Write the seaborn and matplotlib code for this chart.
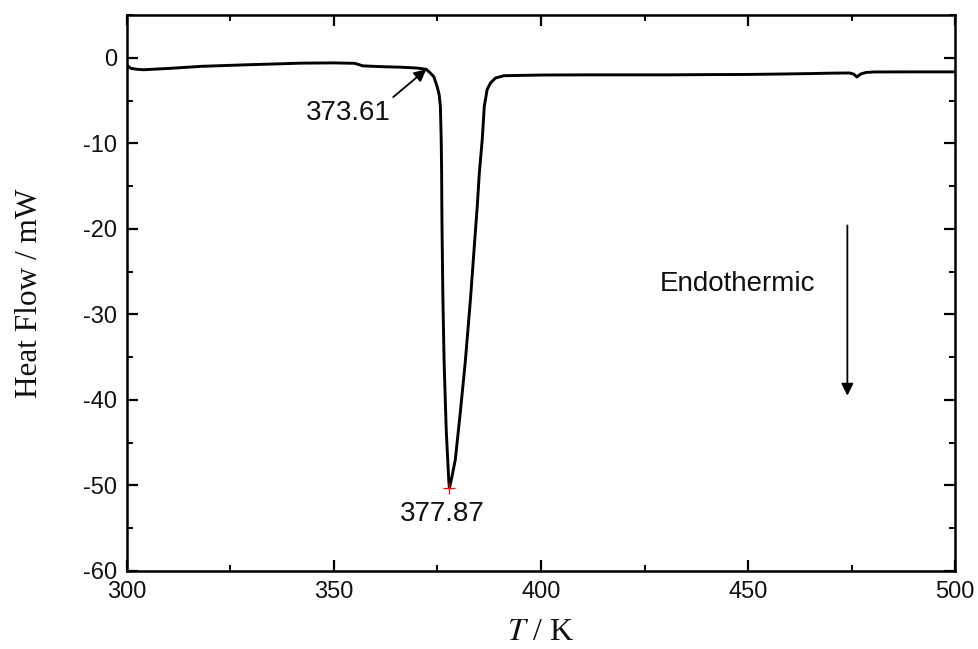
import matplotlib
matplotlib.use("Agg")
import matplotlib.pyplot as plt
from matplotlib.ticker import MultipleLocator
import seaborn as sns
import pandas as pd

# DSC heating curve: temperature (K) and heat flow (mW)
temperature = [
    300.0, 301.0, 302.5, 304.0, 310.0, 318.0, 329.0, 336.0, 342.0, 350.0,
    355.0, 357.0, 362.0, 366.0, 370.0, 372.3, 373.3, 374.1, 374.9, 375.4,
    375.7, 375.9, 376.0, 376.05, 376.1, 376.2, 376.3, 376.45, 376.6, 376.85,
    377.1, 377.5, 377.7, 377.87, 378.4, 379.3, 380.5, 381.7, 383.0,
    384.0, 384.6, 385.1, 385.8, 386.3, 387.0, 387.8, 389.0, 391.0, 400.0,
    410.0, 420.0, 430.0, 440.0, 450.0, 458.0, 465.0, 470.0, 474.5, 475.5,
    476.3, 477.2, 478.5, 480.5, 490.0, 500.0,
]
heat_flow = [
    -0.9, -1.25, -1.35, -1.4, -1.25, -1.0, -0.82, -0.72, -0.63, -0.6,
    -0.65, -0.95, -1.05, -1.1, -1.2, -1.35, -1.8, -2.2, -3.35, -4.3,
    -5.7, -9.6, -13.5, -17.4, -20.1, -24.0, -28.0, -31.8, -35.6, -39.5,
    -43.4, -47.3, -49.2, -50.3, -49.2, -47.0, -41.5, -35.6, -28.0,
    -21.3, -17.4, -13.5, -9.6, -5.7, -3.7, -2.95, -2.37, -2.1, -2.02,
    -2.0, -2.0, -2.0, -1.97, -1.95, -1.9, -1.85, -1.8, -1.78, -1.9,
    -2.25, -1.9, -1.72, -1.66, -1.65, -1.65,
]

# Annotated characteristic temperatures
onset_temp, onset_flow = 373.61, -1.35
peak_temp, peak_flow = 377.87, -50.3

x_ticks = [300, 350, 400, 450, 500]
y_ticks = [-60, -50, -40, -30, -20, -10, 0]

df = pd.DataFrame({"T": temperature, "HF": heat_flow})

sns.set_theme(style="ticks")
plt.rcParams["font.family"] = ["Liberation Sans", "DejaVu Sans"]
plt.rcParams["axes.unicode_minus"] = False
plt.rcParams["mathtext.fontset"] = "stix"

fig = plt.figure(figsize=(9.79, 6.49), dpi=100)
ax = fig.add_axes([0.1297, 0.1202, 0.8458, 0.8567])

sns.lineplot(data=df, x="T", y="HF", ax=ax, color="black", linewidth=2.1,
             estimator=None, sort=False)

# peak marker
ax.plot([peak_temp], [peak_flow], marker="+", color="red", markersize=8,
        markeredgewidth=0.9, linestyle="none", zorder=5)

ax.set_xlim(300, 500)
ax.set_ylim(-60, 5)
ax.set_xticks(x_ticks)
ax.set_yticks(y_ticks)
ax.xaxis.set_minor_locator(MultipleLocator(25))
ax.yaxis.set_minor_locator(MultipleLocator(5))

ax.tick_params(which="both", direction="in", top=True, right=True,
               labeltop=False, labelright=False, color="black")
ax.tick_params(which="major", length=8, width=1.6, labelsize=17, pad=7,
               labelcolor="#111111")
ax.tick_params(which="minor", length=4.5, width=1.4)
for spine in ax.spines.values():
    spine.set_visible(True)
    spine.set_linewidth(1.8)
    spine.set_color("black")

ax.set_xlabel(r"$T$ / K", family="Liberation Serif", fontsize=23,
              labelpad=11, color="#111111")
ax.set_ylabel("Heat Flow / mW", family="Liberation Serif", fontsize=22.5,
              labelpad=28, color="#111111")

# onset annotation
ax.text(353.4, -6.4, f"{onset_temp:.2f}", ha="center", va="center",
        fontsize=20, color="#111111")
ax.annotate("", xy=(372.3, onset_flow), xytext=(364.3, -4.6),
            arrowprops=dict(arrowstyle="-|>", color="black", lw=1.3,
                            mutation_scale=18, shrinkA=0, shrinkB=0))

# peak annotation
ax.text(376.2, -53.3, f"{peak_temp:.2f}", ha="center", va="center",
        fontsize=20, color="#111111")

# endothermic direction
ax.text(447.5, -26.4, "Endothermic", ha="center", va="center",
        fontsize=20, color="#111111")
ax.annotate("", xy=(474.0, -39.5), xytext=(474.0, -19.6),
            arrowprops=dict(arrowstyle="-|>", color="black", lw=1.3,
                            mutation_scale=18, shrinkA=0, shrinkB=0))

fig.savefig("out.png", dpi=100, facecolor="white")
